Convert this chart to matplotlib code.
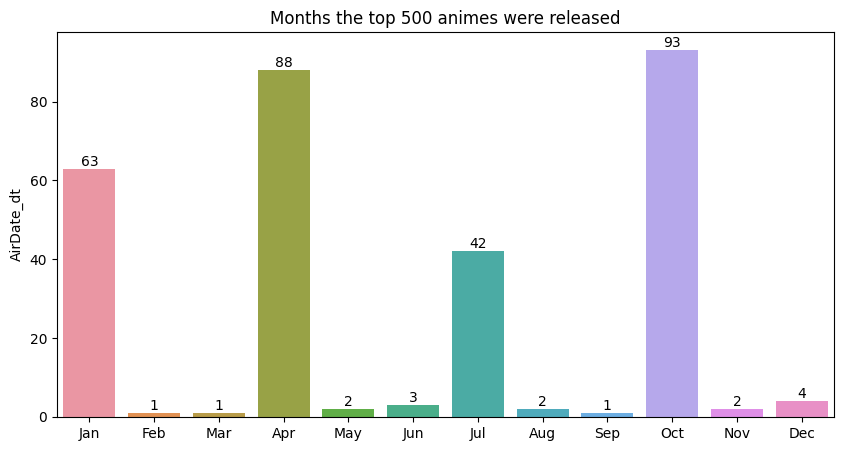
import matplotlib
matplotlib.use("Agg")
import matplotlib.pyplot as plt
import seaborn as sns
import numpy as np

months = ["Jan", "Feb", "Mar", "Apr", "May", "Jun", "Jul", "Aug", "Sep", "Oct", "Nov", "Dec"]
counts = [63, 1, 1, 88, 2, 3, 42, 2, 1, 93, 2, 4]

# old seaborn default for many categories: husl with l=.7, then saturation .75
colors = [sns.desaturate(c, 0.75) for c in sns.husl_palette(len(months), l=0.7)]

fig = plt.figure(figsize=(8.42, 4.51), dpi=100)
ax = fig.add_axes([57 / 842, 1 - 417 / 451, (834 - 57) / 842, (417 - 32) / 451])

x = np.arange(len(months))
bars = ax.bar(x, counts, width=0.8, color=colors)
ax.bar_label(bars)
ax.set_xticks(x, months)
ax.set_xlim(-0.5, len(months) - 0.5)
ax.set_ylabel("AirDate_dt")
ax.set_title("Months the top 500 animes were released")

fig.savefig("out.png", dpi=100)
